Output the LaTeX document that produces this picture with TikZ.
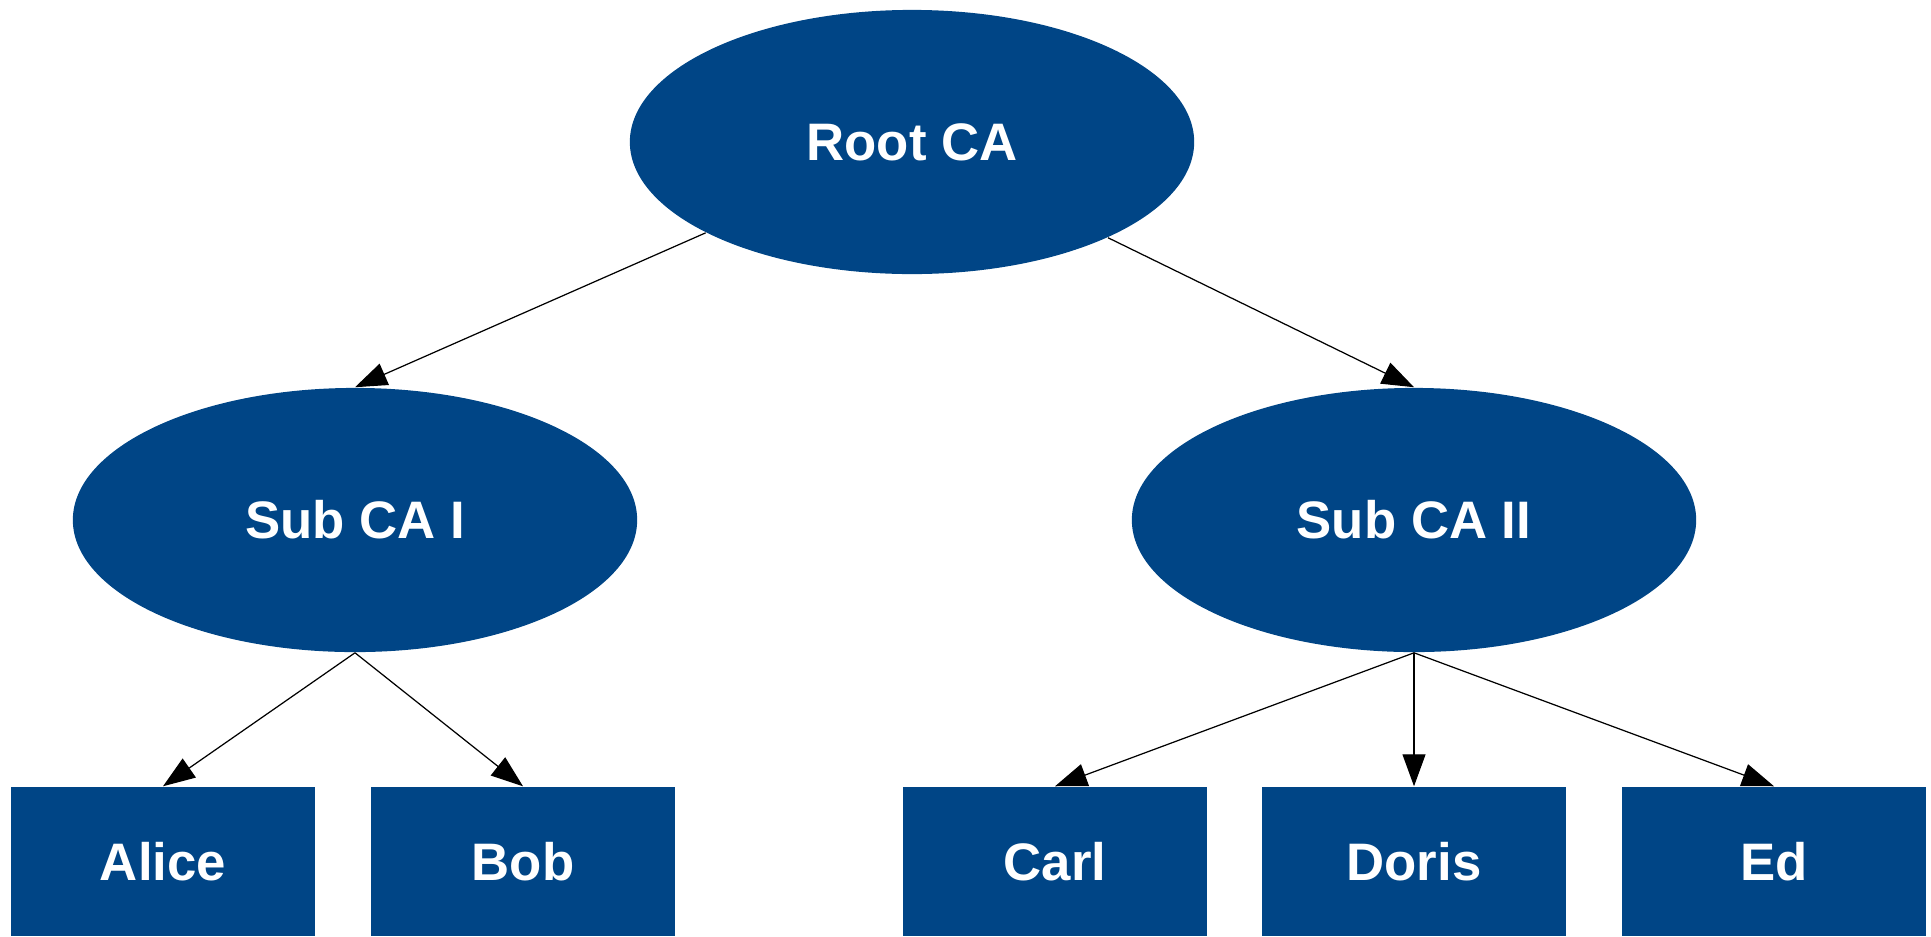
\documentclass[tikz,border=0pt]{standalone}
\usepackage{fontspec}
\setmainfont{Liberation Sans}
\usetikzlibrary{shapes.geometric,arrows.meta}
\definecolor{cablue}{HTML}{004586}

\tikzstyle{caell} = [ellipse, fill=cablue, text=white,
    font=\fontsize{15}{18}\selectfont\bfseries,
    minimum width=5.64cm, minimum height=2.64cm, inner sep=0pt]
\tikzstyle{userbox} = [rectangle, fill=cablue, text=white,
    font=\fontsize{15}{18}\selectfont\bfseries,
    minimum width=3.04cm, minimum height=1.49cm, inner sep=0pt]
\tikzstyle{certarrow} = [-{Triangle[length=0.32cm,width=0.23cm]},
    line width=0.35pt, black]

\begin{document}
\begin{tikzpicture}[x=0.01cm,y=-0.01cm]
\useasboundingbox (0,0) rectangle (1931,936);
% certificate authorities
\node [caell] (root) at (912,142) {Root CA};
\node [caell] (subI) at (355,520) {Sub CA I};
\node [caell] (subII) at (1414,520) {Sub CA II};
% end users
\node [userbox] (alice) at (163,861.5) {Alice};
\node [userbox] (bob) at (523,861.5) {Bob};
\node [userbox] (carl) at (1055,861.5) {Carl};
\node [userbox] (doris) at (1414,861.5) {Doris};
\node [userbox] (ed) at (1774,861.5) {Ed};
% signatures
\draw [certarrow] (root) -- (subI.north);
\draw [certarrow] (root) -- (subII.north);
\draw [certarrow] (subI.south) -- (alice.north);
\draw [certarrow] (subI.south) -- (bob.north);
\draw [certarrow] (subII.south) -- (carl.north);
\draw [certarrow] (subII.south) -- (doris.north);
\draw [certarrow] (subII.south) -- (ed.north);
\end{tikzpicture}
\end{document}
